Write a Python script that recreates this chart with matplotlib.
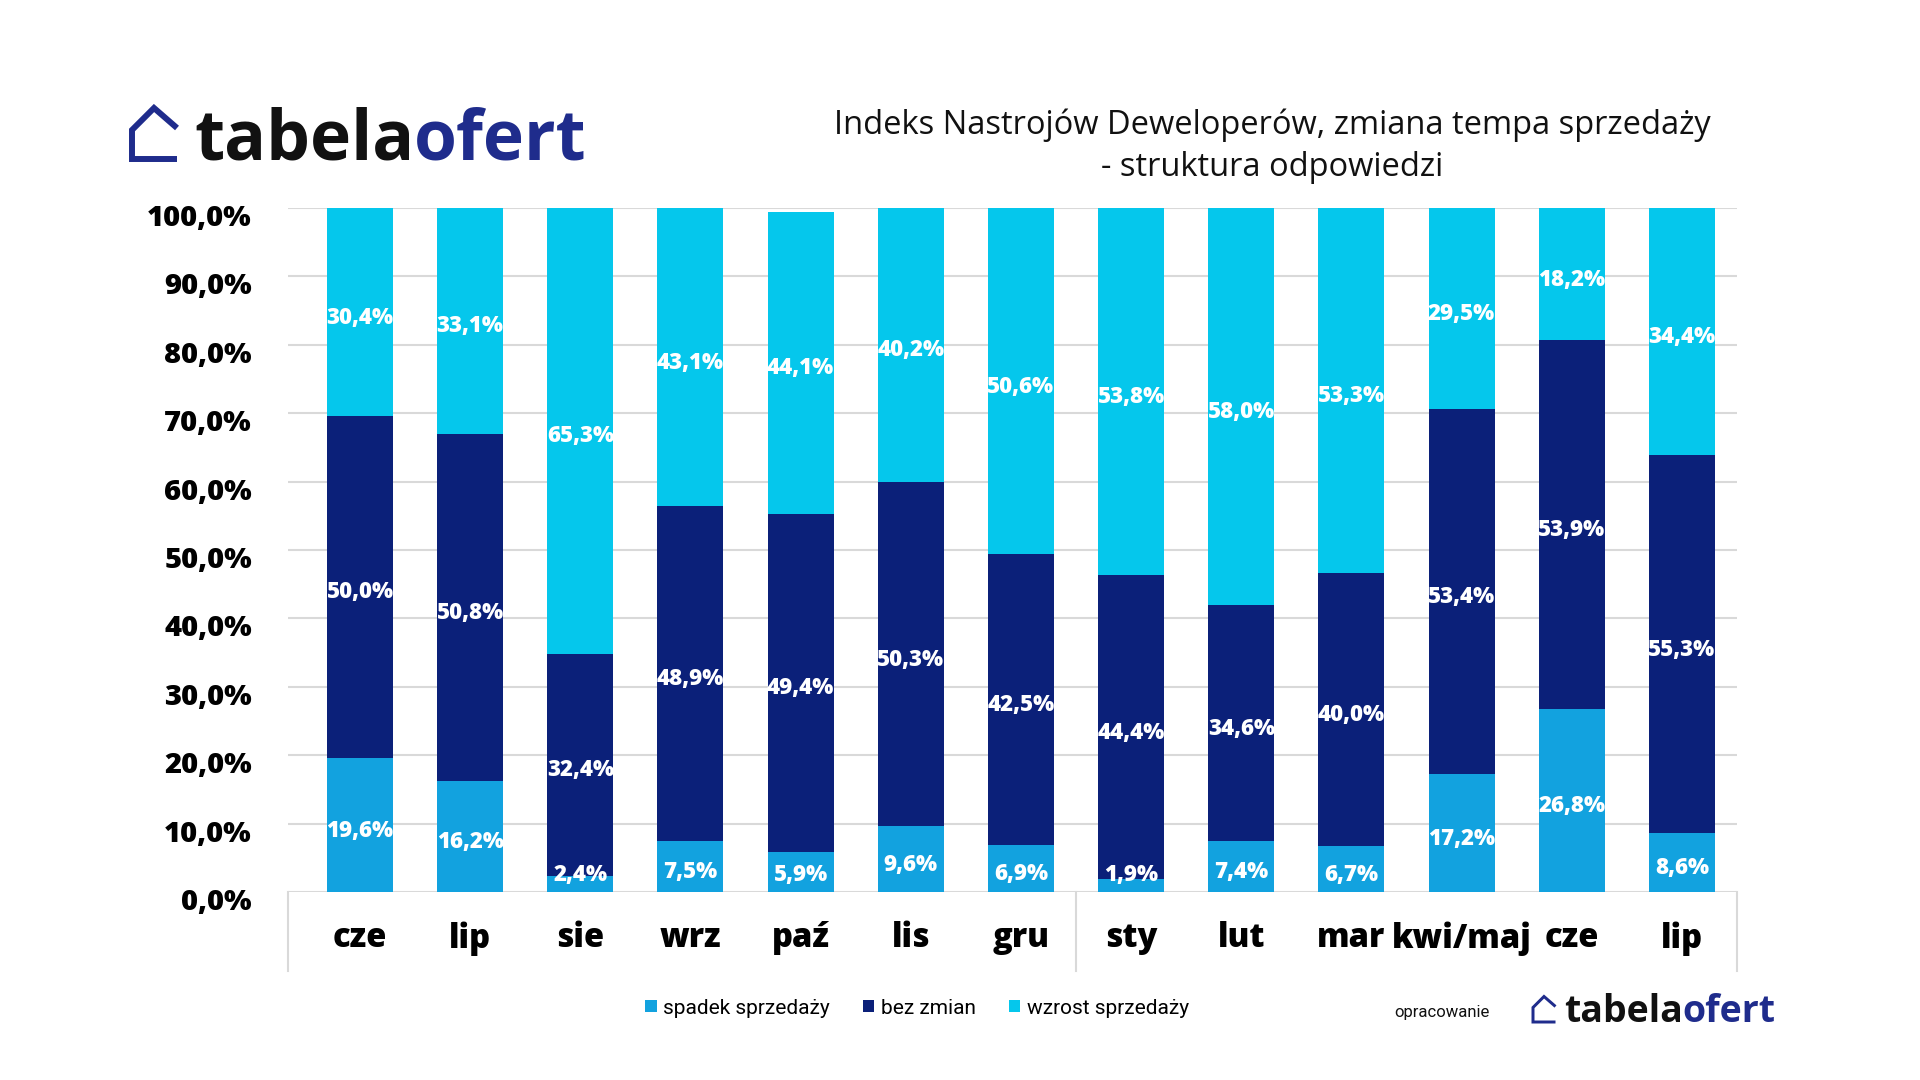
import matplotlib
matplotlib.use("Agg")
import matplotlib.pyplot as plt
from matplotlib.lines import Line2D
from matplotlib.transforms import blended_transform_factory, ScaledTranslation

# dane (w %)
months = ["cze", "lip", "sie", "wrz", "paź", "lis", "gru",
          "sty", "lut", "mar", "kwi/maj", "cze", "lip"]
spadek = [19.6, 16.2, 2.4, 7.5, 5.9, 9.6, 6.9, 1.9, 7.4, 6.7, 17.2, 26.8, 8.6]
bez_zmian = [50.0, 50.8, 32.4, 48.9, 49.4, 50.3, 42.5, 44.4, 34.6, 40.0, 53.4, 53.9, 55.3]
wzrost = [30.4, 33.1, 65.3, 43.1, 44.1, 40.2, 50.6, 53.8, 58.0, 53.3, 29.5, 18.2, 34.4]
# wysokości górnych segmentów zmierzone na słupkach (etykiety nie zawsze sumują się do 100)
wzrost_height = [30.4, 33.1, 65.3, 43.6, 44.1, 40.2, 50.6, 53.8, 58.0, 53.3, 29.5, 19.3, 36.1]
series_names = ["spadek sprzedaży", "bez zmian", "wzrost sprzedaży"]
yticks = list(range(0, 101, 10))

colors = ["#12A2DF", "#0B2079", "#05C7EC"]
logo_blue = "#1F2C8C"
W, H = 1920, 1080

plt.rcParams["font.family"] = ["Open Sans", "DejaVu Sans"]

fig = plt.figure(figsize=(19.2, 10.8), dpi=100)
fig.patch.set_facecolor("white")


def px(x, y):
    # piksele obrazu -> współrzędne figury
    return x / W, 1 - y / H


ax = fig.add_axes([288 / W, 1 - 892 / H, (1737 - 288) / W, (892 - 208) / H])
x = list(range(len(months)))
down = ScaledTranslation(0, -4 / 72, fig.dpi_scale_trans)

bottoms = [0.0] * len(months)
for vals, heights, name, col in zip([spadek, bez_zmian, wzrost],
                                    [spadek, bez_zmian, wzrost_height],
                                    series_names, colors):
    ax.bar(x, heights, bottom=bottoms, width=0.6, color=col, label=name, zorder=3)
    for i, v in enumerate(vals):
        yc = max(bottoms[i] + heights[i] / 2, 3.3)
        ax.text(i, yc, f"{v:.1f}%".replace(".", ","), ha="center", va="center",
                color="white", fontsize=16, fontweight=800, zorder=4,
                transform=ax.transData + down)
    bottoms = [b + h for b, h in zip(bottoms, heights)]

ax.set_xlim(-0.653, 12.5)
ax.set_ylim(0, 100)
ax.set_yticks(yticks)
ax.set_yticklabels([f"{v:.1f}%".replace(".", ",") for v in yticks],
                   fontsize=21, fontweight=800)
ax.set_xticks(x)
ax.set_xticklabels(months, fontsize=23.5, fontweight=800)
ax.tick_params(axis="y", length=0, pad=26)
ax.tick_params(axis="x", length=0, pad=21)
for lab in ax.get_yticklabels():
    lab.set_transform(lab.get_transform() + ScaledTranslation(0, -5 / 72, fig.dpi_scale_trans))
ax.grid(axis="y", color="#D9D9D9", linewidth=1.5, zorder=0)
for s in ax.spines.values():
    s.set_visible(False)

# pionowe linie osi kategorii (podział lat)
trans = blended_transform_factory(ax.transData, ax.transAxes)
for xs in [-0.653, 6.5, 12.5]:
    ax.add_line(Line2D([xs, xs], [0, -0.1155], transform=trans, color="#D9D9D9",
                       linewidth=1.5, clip_on=False))

# tytuł
fig.text(*px(1272, 125), "Indeks Nastrojów Deweloperów, zmiana tempa sprzedaży",
         ha="center", va="center", fontsize=23.5, fontweight=500, color="#111111")
fig.text(*px(1272, 168), "- struktura odpowiedzi",
         ha="center", va="center", fontsize=23.5, fontweight=500, color="#111111")


def logo(x0, y0, s, fs):
    # domek + napis tabelaofert, x0/y0 = lewy dolny róg domku w pikselach
    pts = [(45, 0), (0, 0), (0, -29), (22, -51), (45, -31)]
    xs = [px(x0 + a * s, y0 + b * s)[0] for a, b in pts]
    ys = [px(x0 + a * s, y0 + b * s)[1] for a, b in pts]
    fig.add_artist(Line2D(xs, ys, transform=fig.transFigure, color=logo_blue,
                          linewidth=4.3 * s, solid_joinstyle="miter",
                          solid_capstyle="butt"))
    t = fig.text(*px(x0 + 62 * s, y0 + 1 * s), "tabela", fontsize=fs,
                 fontweight="bold", color="#111111", ha="left", va="baseline")
    fig.canvas.draw()
    bb = t.get_window_extent()
    fig.text(bb.x1 / W, 1 - (y0 + 1 * s) / H, "ofert", fontsize=fs,
             fontweight="bold", color=logo_blue, ha="left", va="baseline")


logo(132, 159, 1.0, 50)
logo(1533, 1022, 0.5, 27)
fig.text(*px(1394, 1012), "opracowanie", ha="left", va="center", fontsize=12,
         color="#111111", family=["Roboto", "DejaVu Sans"])

fig.legend(loc="center", bbox_to_anchor=px(917, 1008), ncol=3, frameon=False,
           handlelength=0.55, handleheight=0.55, handletextpad=0.3,
           columnspacing=1.6, prop={"family": ["Roboto", "DejaVu Sans"], "size": 15})

fig.savefig("out.png", dpi=100, facecolor="white")
